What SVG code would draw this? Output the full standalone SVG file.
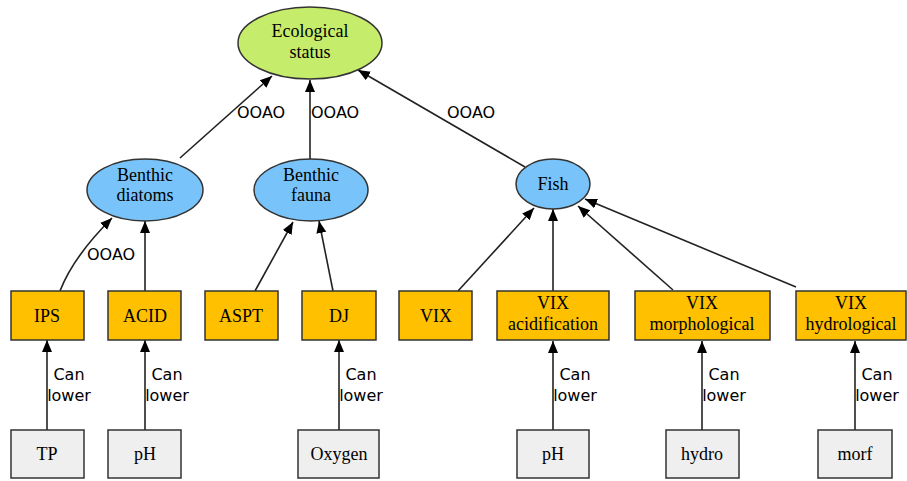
<svg xmlns="http://www.w3.org/2000/svg" width="907" height="481" viewBox="0 0 907 481">
<style>
.n{font-family:"Liberation Serif","Times New Roman",serif;font-size:18px;fill:#000;text-anchor:middle}
.l{font-family:"DejaVu Sans",Verdana,sans-serif;font-size:16px;fill:#000}
.e{fill:none;stroke:#222;stroke-width:1.6;marker-end:url(#ah)}
.box{stroke:#333;stroke-width:1.5}
</style>
<defs>
<marker id="ah" markerUnits="userSpaceOnUse" markerWidth="14" markerHeight="12" refX="12" refY="5" orient="auto" viewBox="0 0 14 10">
<path d="M0,0 L12,5 L0,10 Z" fill="#000"/>
</marker>
</defs>
<rect width="907" height="481" fill="#fff"/>
<g id="connectors">
<path class="e" d="M180,158 L272,76"/>
<path class="e" d="M310,160 L310,80"/>
<path class="e" d="M525,167 L358,70"/>
<path class="e" d="M60,291 C70,265 90,240 112,218"/>
<path class="e" d="M145,291 L145,221"/>
<path class="e" d="M255,291 L293,222"/>
<path class="e" d="M333,291 L319,221"/>
<path class="e" d="M458,291 L534,208"/>
<path class="e" d="M553,291 L553,209"/>
<path class="e" d="M673,290 L578,206"/>
<path class="e" d="M796,287 L585,199"/>
<path class="e" d="M47,430 L47,340"/>
<path class="e" d="M145,430 L145,340"/>
<path class="e" d="M339,430 L339,340"/>
<path class="e" d="M553,430 L553,341"/>
<path class="e" d="M702,430 L702,341"/>
<path class="e" d="M855,430 L855,341"/>
<text class="l" x="237" y="118">OOAO</text>
<text class="l" x="311" y="118">OOAO</text>
<text class="l" x="447" y="118">OOAO</text>
<text class="l" x="87" y="260">OOAO</text>
<g class="l" text-anchor="middle">
<text x="69" y="380">Can</text><text x="69" y="401">lower</text>
<text x="167" y="380">Can</text><text x="167" y="401">lower</text>
<text x="361" y="380">Can</text><text x="361" y="401">lower</text>
<text x="575" y="380">Can</text><text x="575" y="401">lower</text>
<text x="724" y="380">Can</text><text x="724" y="401">lower</text>
<text x="877" y="380">Can</text><text x="877" y="401">lower</text>
</g>
</g>
<g id="eco"><ellipse class="box" cx="310" cy="43" rx="72" ry="36" fill="#c6ec6c"/><text class="n" x="310" y="37">Ecological</text><text class="n" x="310" y="58">status</text></g>
<g id="diatoms"><ellipse class="box" cx="145" cy="190" rx="58" ry="31" fill="#78c4fa"/><text class="n" x="145" y="181">Benthic</text><text class="n" x="145" y="201">diatoms</text></g>
<g id="fauna"><ellipse class="box" cx="311" cy="190" rx="57" ry="31" fill="#78c4fa"/><text class="n" x="311" y="181">Benthic</text><text class="n" x="311" y="201">fauna</text></g>
<g id="fish"><ellipse class="box" cx="553" cy="184" rx="37" ry="25" fill="#78c4fa"/><text class="n" x="553" y="190">Fish</text></g>
<g id="ips"><rect class="box" x="11" y="291" width="73" height="49" fill="#ffc000"/><text class="n" x="47" y="322">IPS</text></g>
<g id="acid"><rect class="box" x="108" y="291" width="73" height="49" fill="#ffc000"/><text class="n" x="145" y="322">ACID</text></g>
<g id="aspt"><rect class="box" x="205" y="291" width="73" height="49" fill="#ffc000"/><text class="n" x="241" y="322">ASPT</text></g>
<g id="dj"><rect class="box" x="302" y="291" width="74" height="49" fill="#ffc000"/><text class="n" x="339" y="322">DJ</text></g>
<g id="vix"><rect class="box" x="399" y="291" width="73" height="49" fill="#ffc000"/><text class="n" x="436" y="322">VIX</text></g>
<g id="vixacid"><rect class="box" x="497" y="291" width="112" height="49" fill="#ffc000"/><text class="n" x="553" y="309">VIX</text><text class="n" x="553" y="330">acidification</text></g>
<g id="vixmorph"><rect class="box" x="635" y="291" width="135" height="49" fill="#ffc000"/><text class="n" x="702" y="309">VIX</text><text class="n" x="702" y="330">morphological</text></g>
<g id="vixhydro"><rect class="box" x="796" y="291" width="110" height="49" fill="#ffc000"/><text class="n" x="851" y="309">VIX</text><text class="n" x="851" y="330">hydrological</text></g>
<g id="tp"><rect class="box" x="11" y="430" width="73" height="48" fill="#efefef"/><text class="n" x="47" y="460">TP</text></g>
<g id="ph1"><rect class="box" x="108" y="430" width="73" height="48" fill="#efefef"/><text class="n" x="145" y="460">pH</text></g>
<g id="oxygen"><rect class="box" x="298" y="430" width="81" height="48" fill="#efefef"/><text class="n" x="339" y="460">Oxygen</text></g>
<g id="ph2"><rect class="box" x="517" y="430" width="72" height="48" fill="#efefef"/><text class="n" x="553" y="460">pH</text></g>
<g id="hydro"><rect class="box" x="666" y="430" width="73" height="48" fill="#efefef"/><text class="n" x="702" y="460">hydro</text></g>
<g id="morf"><rect class="box" x="818" y="430" width="74" height="48" fill="#efefef"/><text class="n" x="855" y="460">morf</text></g>
</svg>
